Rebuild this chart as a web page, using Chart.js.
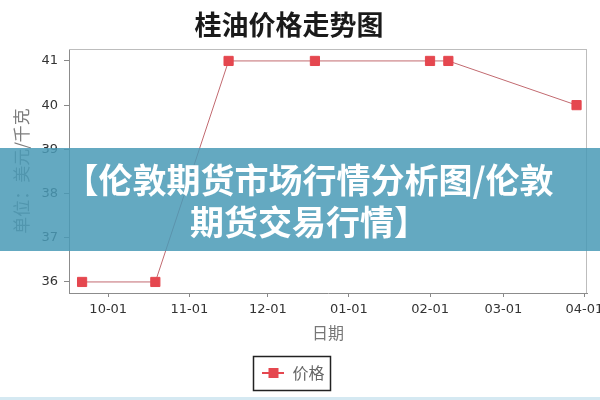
<!DOCTYPE html>
<html><head><meta charset="utf-8">
<script src="https://cdn.jsdelivr.net/npm/chart.js@4"></script>
<style>
html,body{margin:0;padding:0;background:#fff;}
#wrap{position:relative;width:600px;height:400px;overflow:hidden;}
#banner{position:absolute;left:0;top:148px;width:600px;height:103px;box-sizing:border-box;padding-left:18px;background:rgba(73,154,182,0.85);display:flex;align-items:center;justify-content:center;text-align:center;color:#fff;font:bold 34px/42px "Noto Sans CJK SC",sans-serif;white-space:nowrap;}
#edge{position:absolute;left:0;top:397px;width:600px;height:3px;background:#d5e9f2;}
</style></head><body>
<div id="wrap"><canvas id="c" width="600" height="400"></canvas>
<div id="banner"><div>【伦敦期货市场行情分析图/伦敦<br>期货交易行情】</div></div>
<div id="edge"></div></div>
<script>
const chartTitle = '桂油价格走势图';
const seriesName = '价格';
const yAxisTitle = '单位：美元/千克';
const xAxisTitle = '日期';
const dates = ['2012-09-21','2012-10-19','2012-11-16','2012-12-19','2013-02-01','2013-02-08','2013-03-29'];
const prices = [36, 36, 41, 41, 41, 41, 40];
const xTickDates = ['2012-10-01','2012-11-01','2012-12-01','2013-01-01','2013-02-01','2013-03-01','2013-04-01'];
const xTickLabels = ['10-01','11-01','12-01','01-01','02-01','03-01','04-01'];
const yTicks = [36, 37, 38, 39, 40, 41];
const xRange = ['2012-09-16', '2013-04-02'];
const yRange = [35.75, 41.27];

const dayNum = s => Date.parse(s + 'T00:00:00Z') / 864e5;
const points = dates.map((d, i) => ({x: dayNum(d), y: prices[i]}));

const markerColor = '#e5474f';
const lineColor = '#c26a70';

// legend icon: short line with square marker
const icon = document.createElement('canvas');
icon.width = 22; icon.height = 10;
(function(){
  const g = icon.getContext('2d');
  g.fillStyle = markerColor;
  g.fillRect(0, 4, 22, 2);
  g.fillRect(6, 0, 10, 10);
})();

const cjk = '"Noto Sans CJK SC", sans-serif';
const tickFont = {family: '"DejaVu Sans", sans-serif', size: 13};

const decor = {
  id: 'decor',
  beforeDatasetsDraw(chart) {
    const {ctx, chartArea: a} = chart;
    ctx.save();
    ctx.lineWidth = 1;
    ctx.strokeStyle = '#bdbdbd';
    ctx.beginPath();
    ctx.moveTo(a.left, a.top + 0.5); ctx.lineTo(a.right, a.top + 0.5);
    ctx.moveTo(a.right - 0.5, a.top); ctx.lineTo(a.right - 0.5, a.bottom);
    ctx.stroke();
    ctx.restore();
  },
  afterDraw(chart) {
    const {ctx} = chart;
    ctx.save();
    ctx.font = 'bold 27px ' + cjk;
    ctx.fillStyle = '#1a1a1a';
    ctx.textAlign = 'center';
    ctx.textBaseline = 'middle';
    ctx.fillText(chartTitle, 289, 25);
    const hb = chart.legend.legendHitBoxes[0];
    if (hb) {
      ctx.strokeStyle = '#222';
      ctx.lineWidth = 1.5;
      ctx.strokeRect(Math.round(hb.left - 9) + 0.5, Math.round(hb.top - 9) + 0.5, Math.round(hb.width + 15), 34);
    }
    ctx.restore();
  }
};

new Chart(document.getElementById('c'), {
  type: 'line',
  data: {
    datasets: [{
      label: seriesName,
      data: points,
      borderColor: lineColor,
      borderWidth: 1,
      pointStyle: 'rect',
      pointRadius: 6.5,
      pointBackgroundColor: markerColor,
      pointBorderColor: markerColor,
      pointBorderWidth: 1,
      fill: false,
      tension: 0
    }]
  },
  options: {
    responsive: false,
    animation: false,
    layout: {padding: {top: 49, right: 13, bottom: 9, left: 0}},
    plugins: {
      tooltip: {enabled: false},
      title: {display: false},
      legend: {
        position: 'bottom',
        labels: {
          usePointStyle: true,
          pointStyleWidth: 22,
          padding: 10,
          color: '#666',
          font: {family: cjk, size: 16},
          generateLabels: () => [{
            text: seriesName, pointStyle: icon, fillStyle: markerColor,
            strokeStyle: markerColor, lineWidth: 0, hidden: false, datasetIndex: 0, fontColor: '#666'
          }]
        }
      }
    },
    scales: {
      x: {
        type: 'linear',
        min: dayNum(xRange[0]),
        max: dayNum(xRange[1]),
        afterBuildTicks: s => { s.ticks = xTickDates.map(d => ({value: dayNum(d)})); },
        afterFit: s => { s.height = 62; s.paddingLeft = 0; s.paddingRight = 0; },
        ticks: {
          autoSkip: false, maxRotation: 0, padding: 5, color: '#333', font: tickFont,
          callback: v => { const i = xTickDates.findIndex(d => dayNum(d) === v); return i >= 0 ? xTickLabels[i] : ''; }
        },
        grid: {drawOnChartArea: false, tickLength: 4, color: '#888'},
        border: {color: '#8c8c8c'},
        title: {display: true, text: xAxisTitle, color: '#777', font: {family: cjk, size: 16}, padding: {top: 0, bottom: 12}}
      },
      y: {
        type: 'linear',
        min: yRange[0],
        max: yRange[1],
        afterBuildTicks: s => { s.ticks = yTicks.map(v => ({value: v})); },
        afterFit: s => { s.width = 69; },
        ticks: {padding: 6, color: '#333', font: tickFont, callback: v => String(v)},
        grid: {drawOnChartArea: false, tickLength: 5, color: '#888'},
        border: {color: '#8c8c8c'},
        title: {display: true, text: yAxisTitle, color: '#7d7d7d', font: {family: cjk, size: 17}, padding: {top: 11, bottom: 0}}
      }
    }
  },
  plugins: [decor]
});
</script>
</body></html>
